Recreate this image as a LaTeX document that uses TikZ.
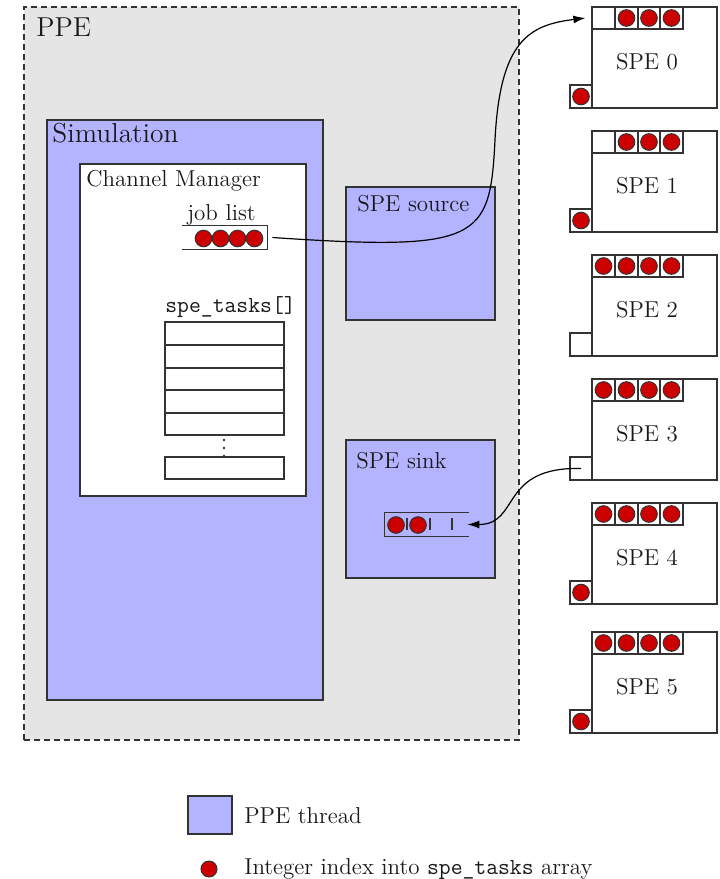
\documentclass[tikz,border=0pt]{standalone}
\usepackage{fontspec}
\usetikzlibrary{arrows.meta,fit}
\definecolor{ppegray}{HTML}{E5E5E5}
\definecolor{threadblue}{HTML}{B3B3FF}
\definecolor{idxred}{HTML}{CC0000}
\definecolor{ink}{HTML}{333333}
\begin{document}
\begin{tikzpicture}[x=0.5pt,y=-0.5pt,
  every node/.style={font=\fontsize{11.5}{14}\selectfont, text=black!90, inner sep=0pt},
  boxline/.style={draw=ink, line width=0.6pt},
  ppebox/.style={boxline, fill=ppegray, dash pattern=on 3pt off 2pt},
  thread/.style={boxline, fill=threadblue},
  plain/.style={boxline, fill=white},
  frame/.style={inner sep=0pt},
  bigtxt/.style={font=\fontsize{13.7}{16}\selectfont},
  idx/.style={fill=idxred, draw=ink, line width=0.5pt},
  flow/.style={draw=black, line width=0.6pt, -{Latex[length=6pt,width=4pt]}},
]
\useasboundingbox (0,0) rectangle (719,879);

% PPE side
\node[ppebox, fit={(24,7)(519,740)}] (ppe) {};
\node[bigtxt, anchor=base west] (ppelbl) at (36,36) {PPE};

\node[thread, fit={(47,120)(323,700)}] (sim) {};
\node[bigtxt, anchor=base west] (simlbl) at (52,142) {Simulation};

\node[plain, fit={(80,164)(306,496)}] (chan) {};
\node[anchor=base west] (chanlbl) at (86,186) {Channel Manager};

% job list queue (open on the left)
\node[anchor=base] (joblbl) at (221.5,220) {job list};
\node[frame, fit={(182,226)(267,249)}] (joblist) {};
\draw[boxline] (joblist.north west) -- (joblist.north east) -- (joblist.south east) -- (joblist.south west);
\foreach \cx in {203.5,220.5,237.5,254.5}
  \draw[idx] (\cx,238.5) circle[radius=8.3];

% spe_tasks array
\node[anchor=base west] (tasklbl) at (165,312) {\texttt{spe\_tasks[]}};
\foreach \k/\ya/\yb in {1/322/345,2/345/368,3/368/390,4/390/413,5/413/435,6/457/479}
  \node[plain, fit={(165,\ya)(284,\yb)}] (task\k) {};
\foreach \dy in {440,448,456}
  \fill[ink] (224,\dy) circle[radius=1.3];

% SPE source and sink threads
\node[thread, fit={(346,187)(495,320)}] (src) {};
\node[anchor=base west] (srclbl) at (357,211) {SPE source};
\node[thread, fit={(346,440)(495,578)}] (sink) {};
\node[anchor=base west] (sinklbl) at (356,468) {SPE sink};

% sink queue (open on the right)
\node[frame, fit={(385,513)(469,536)}] (sinkq) {};
\draw[boxline] (sinkq.north east) -- (sinkq.north west) -- (sinkq.south west) -- (sinkq.south east);
\foreach \tx in {407,430,452}
  \draw[ink, line width=0.6pt] (\tx,518) -- (\tx,530);
\foreach \cx in {396,418}
  \draw[idx] (\cx,525) circle[radius=8.3];

% SPEs: index / top / first input cell empty / output slot filled
\foreach \i/\t/\fe/\of in {0/7/1/1, 1/131/1/1, 2/255/0/0, 3/379/0/0, 4/503/0/1, 5/632/0/1} {
  \node[plain, fit={(592,\t)(717,\t+101)}] (spe\i) {};
  \node[anchor=base] (spe\i-lbl) at (647,\t+62) {SPE \i};
  \foreach \k/\xa/\xb in {1/592/615,2/615/638,3/638/660,4/660/683} {
    \node[plain, fit={(\xa,\t)(\xb,\t+22)}] (spe\i-c\k) {};
    \ifnum\k>\fe \draw[idx] (spe\i-c\k.center) circle[radius=8.3]; \fi
  }
  \node[plain, fit={(570,\t+78)(592,\t+101)}] (spe\i-out) {};
  \ifnum\of=1 \draw[idx] (spe\i-out.center) circle[radius=8.3]; \fi
}

% job dispatch and completion paths
\draw[flow] ([xshift=2.5pt]joblist.east) .. controls +(208,14) and +(-5,100) .. (495,140)
  .. controls +(5,-100) and +(-56,7) .. ([xshift=-3pt]spe0-c1.west);
\draw[flow] (spe3-out.center) .. controls +(-82,-2) and +(53,0) .. ([xshift=-1pt]sinkq.east);

% legend
\node[thread, fit={(188,796)(232,834)}] (legbox) {};
\node[anchor=base west] (leglbl1) at (244,823) {PPE thread};
\draw[idx] (209,869) circle[radius=8];
\node[anchor=base west] (leglbl2) at (244,874.5) {Integer index into \texttt{spe\_tasks} array};
\end{tikzpicture}
\end{document}
